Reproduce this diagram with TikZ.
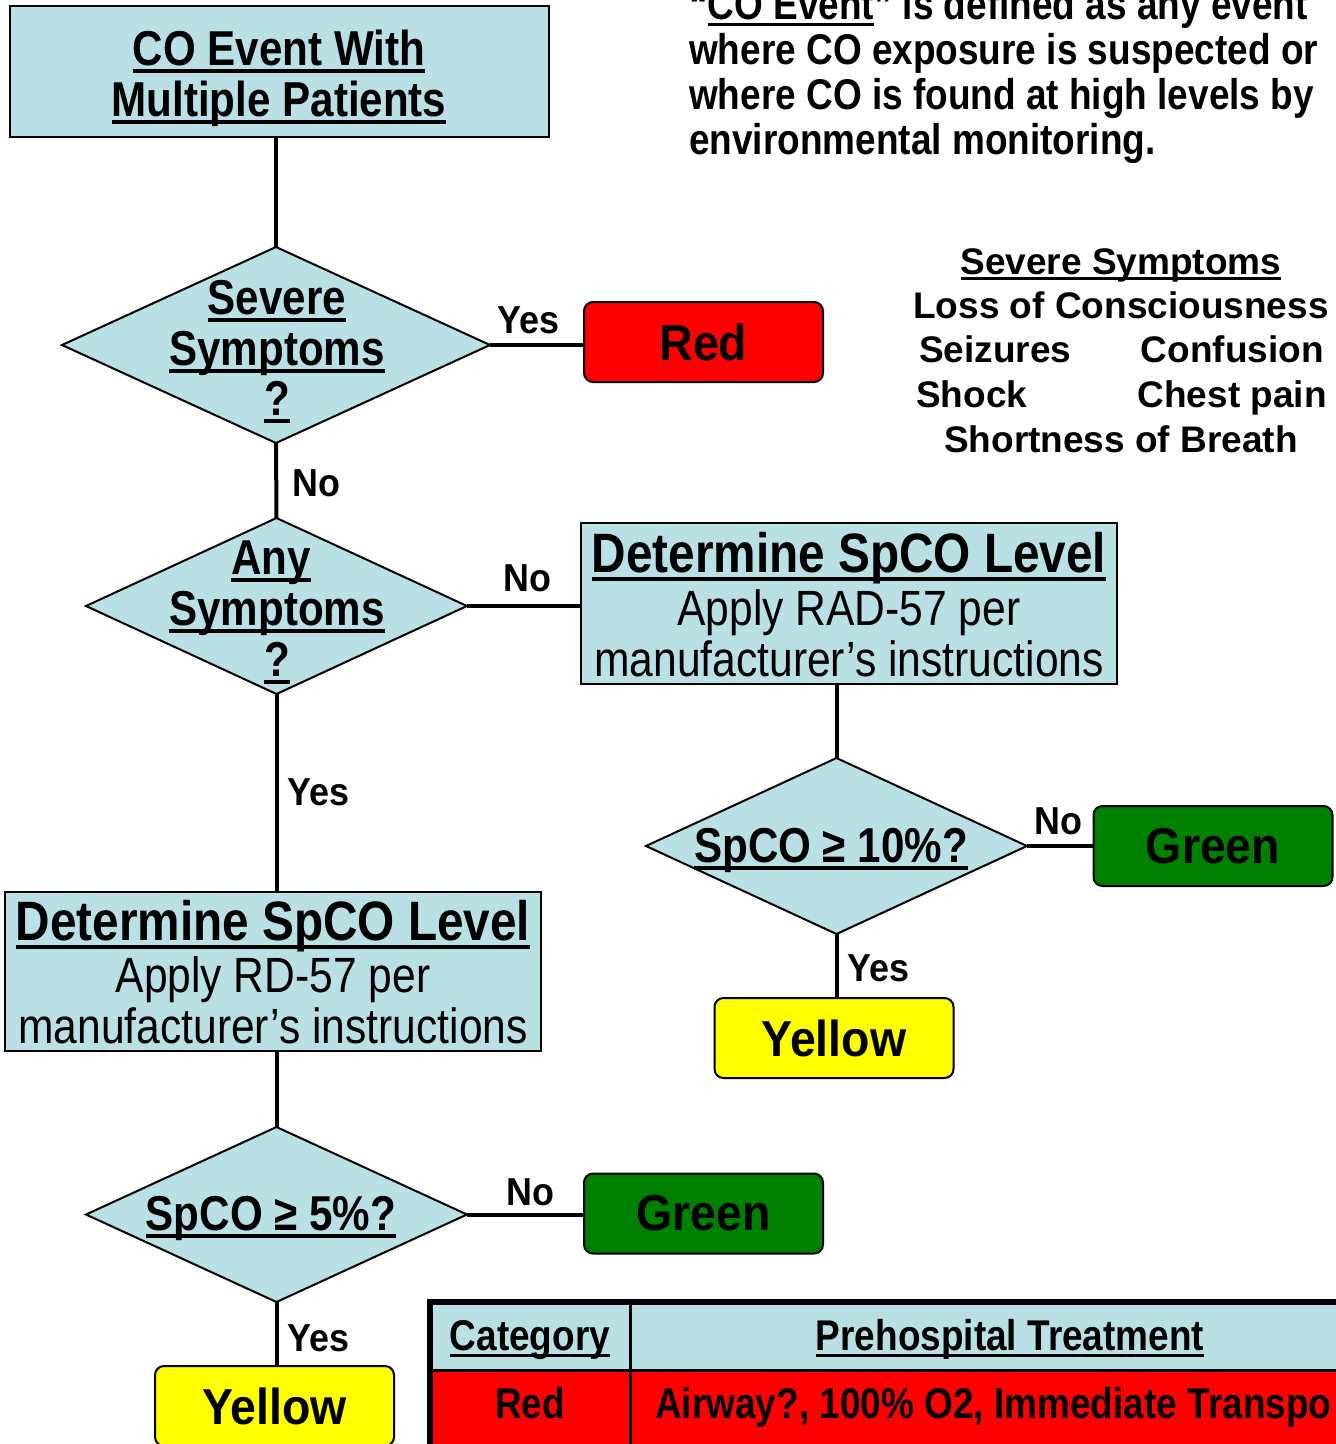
\documentclass[tikz,border=0pt]{standalone}
\usepackage{fontspec}
\setmainfont[FakeStretch=0.86]{Liberation Sans}
\newfontfamily\widefont{Liberation Sans}
\newfontfamily\midfont[FakeStretch=0.92]{Liberation Sans}
\usetikzlibrary{shapes.geometric}
\definecolor{lblue}{RGB}{185,224,228}
\definecolor{dgreen}{RGB}{0,128,0}
\definecolor{cred}{RGB}{255,0,0}
\definecolor{cyellow}{RGB}{255,255,0}
\newcommand\fs[1]{\fontsize{#1}{#1}\selectfont}
\newcommand\ulx[1]{\leavevmode\setbox0\hbox{#1}\rlap{\rule[-0.16em]{\wd0}{0.075em}}\box0}
\begin{document}
\begin{tikzpicture}[x=1pt,y=-1pt,
  conn/.style={line width=4pt},
  bluebox/.style={draw, line width=2pt, fill=lblue, inner sep=0pt, outer sep=0pt},
  catbox/.style={draw, line width=2pt, rounded corners=9pt, inner sep=0pt, outer sep=0pt,
     minimum width=239pt, minimum height=80pt, font=\midfont\fs{50.5}\bfseries},
  dia/.style={diamond, draw, line width=2pt, fill=lblue, inner sep=0pt, outer sep=0pt},
  txt/.style={inner sep=0pt, anchor=base},
  txtw/.style={inner sep=0pt, anchor=base west},
  txte/.style={inner sep=0pt, anchor=base east},
  lbl/.style={inner sep=0pt, anchor=base west, font=\midfont\fs{39}\bfseries},
  cell/.style={draw, line width=3pt, inner sep=0pt, outer sep=0pt}
]
\useasboundingbox (0,0) rectangle (1336,1444);
\clip (0,0) rectangle (1336,1444);

% ---------- shapes ----------
\node[bluebox, minimum width=539pt, minimum height=131pt] (top) at (279.5,71.5) {};
\node[dia, minimum width=428pt, minimum height=196pt] (d1) at (276,345) {};
\node[catbox, fill=cred] (red) at (703.5,342) {Red};
\node[dia, minimum width=381pt, minimum height=176pt] (d2) at (276.5,606) {};
\node[bluebox, minimum width=536pt, minimum height=161pt] (box2) at (849,603.5) {};
\node[dia, minimum width=381pt, minimum height=176pt] (d3) at (836.5,846) {};
\node[catbox, fill=dgreen] (green1) at (1213,846) {Green};
\node[catbox, fill=cyellow] (yellow1) at (834,1038) {Yellow};
\node[bluebox, minimum width=536pt, minimum height=159pt] (box3) at (273,971.5) {};
\node[dia, minimum width=381pt, minimum height=175pt] (d4) at (276.5,1214.5) {};
\node[catbox, fill=dgreen] (green2) at (703.5,1213.5) {Green};
\node[catbox, fill=cyellow] (yellow2) at (274.5,1406) {Yellow};

% ---------- connectors ----------
\draw[conn] (d1.north |- top.south) -- (d1.north);
\draw[conn] (d1.east) -- (red.west |- d1.east);
\draw[conn] (d1.south) -- (d2.north);
\draw[conn] (d2.east) -- (box2.west |- d2.east);
\draw[conn] (d2.south) -- (d2.south |- box3.north);
\draw[conn] (d3.north |- box2.south) -- (d3.north);
\draw[conn] (d3.east) -- (green1.west |- d3.east);
\draw[conn] (d3.south) -- (d3.south |- yellow1.north);
\draw[conn] (d4.north |- box3.south) -- (d4.north);
\draw[conn] (d4.east) -- (green2.west |- d4.east);
\draw[conn] (d4.south) -- (d4.south |- yellow2.north);

% ---------- texts in shapes ----------
\node[txt, font=\fs{49}\bfseries] (topa) at (279,65) {\ulx{CO Event With}};
\node[txt, font=\fs{49}\bfseries] (topb) at (279,116) {\ulx{Multiple Patients}};

\node[txt, font=\fs{49}\bfseries] (d1a) at (277,314) {\ulx{Severe}};
\node[txt, font=\fs{49}\bfseries] (d1b) at (277,365) {\ulx{Symptoms}};
\node[txt, font=\fs{49}\bfseries] (d1c) at (277,415) {\ulx{?}};

\node[txt, font=\fs{49}\bfseries] (d2a) at (271,574) {\ulx{Any}};
\node[txt, font=\fs{49}\bfseries] (d2b) at (277,625) {\ulx{Symptoms}};
\node[txt, font=\fs{49}\bfseries] (d2c) at (277,676) {\ulx{?}};

\node[txt, font=\fs{55.5}\bfseries] (b2a) at (849,572) {\ulx{Determine SpCO Level}};
\node[txt, font=\fs{49.5}] (b2b) at (849,625) {Apply RAD-57 per};
\node[txt, font=\fs{49.5}] (b2c) at (849,676) {manufacturer’s instructions};

\node[txt, font=\fs{49}\bfseries] (d3a) at (831,862) {\ulx{SpCO ≥ 10\%?}};

\node[txt, font=\fs{55.5}\bfseries] (b3a) at (273,940) {\ulx{Determine SpCO Level}};
\node[txt, font=\fs{49.5}] (b3b) at (273,992) {Apply RD-57 per};
\node[txt, font=\fs{49.5}] (b3c) at (273,1043) {manufacturer’s instructions};

\node[txt, font=\fs{49}\bfseries] (d4a) at (271,1230) {\ulx{SpCO ≥ 5\%?}};

% ---------- connector labels ----------
\node[lbl] (l1) at (497,333) {Yes};
\node[lbl] (l2) at (292,496) {No};
\node[lbl] (l3) at (503,591) {No};
\node[lbl] (l4) at (287,805) {Yes};
\node[lbl] (l5) at (1034,834) {No};
\node[lbl] (l6) at (847,981) {Yes};
\node[lbl] (l7) at (506,1205) {No};
\node[lbl] (l8) at (287,1351) {Yes};

% ---------- definition paragraph ----------
\node[txtw, font=\fs{43}\bfseries] (p1) at (689,19) {“\ulx{CO Event}” is defined as any event};
\node[txtw, font=\fs{43}\bfseries] (p2) at (689,64) {where CO exposure is suspected or};
\node[txtw, font=\fs{43}\bfseries] (p3) at (689,109) {where CO is found at high levels by};
\node[txtw, font=\fs{43}\bfseries] (p4) at (689,154) {environmental monitoring.};

% ---------- severe symptoms list ----------
\node[txt, font=\widefont\fs{37}\bfseries] (s0) at (1121,274) {\ulx{Severe Symptoms}};
\node[txt, font=\widefont\fs{37}\bfseries] (s1) at (1121,318) {Loss of Consciousness};
\node[txtw, font=\widefont\fs{37}\bfseries] (s2) at (919,362) {Seizures};
\node[txte, font=\widefont\fs{37}\bfseries] (s3) at (1324,362) {Confusion};
\node[txtw, font=\widefont\fs{37}\bfseries] (s4) at (916,407) {Shock};
\node[txte, font=\widefont\fs{37}\bfseries] (s5) at (1327,407) {Chest pain};
\node[txt, font=\widefont\fs{37}\bfseries] (s6) at (1121,452) {Shortness of Breath};

% ---------- table ----------
\node[cell, fill=lblue, minimum width=200pt, minimum height=68pt] (hc1) at (530,1336) {};
\node[cell, fill=lblue, minimum width=760pt, minimum height=68pt] (hc2) at (1010,1336) {};
\node[cell, fill=cred, minimum width=200pt, minimum height=80pt] (rc1) at (530,1410) {};
\node[cell, fill=cred, minimum width=760pt, minimum height=80pt] (rc2) at (1010,1410) {};
\draw[line width=6pt] (hc1.north west) rectangle (rc2.south east);
\node[txt, font=\fs{43}\bfseries] (t1) at (530,1350) {\ulx{Category}};
\node[txt, font=\fs{43}\bfseries] (t2) at (1010,1350) {\ulx{Prehospital Treatment}};
\node[txt, font=\fs{43}\bfseries] (t3) at (530,1418) {Red};
\node[txtw, font=\fs{43}\bfseries] (t4) at (655,1418) {Airway?, 100\% O2, Immediate Transpo};
\end{tikzpicture}
\end{document}
